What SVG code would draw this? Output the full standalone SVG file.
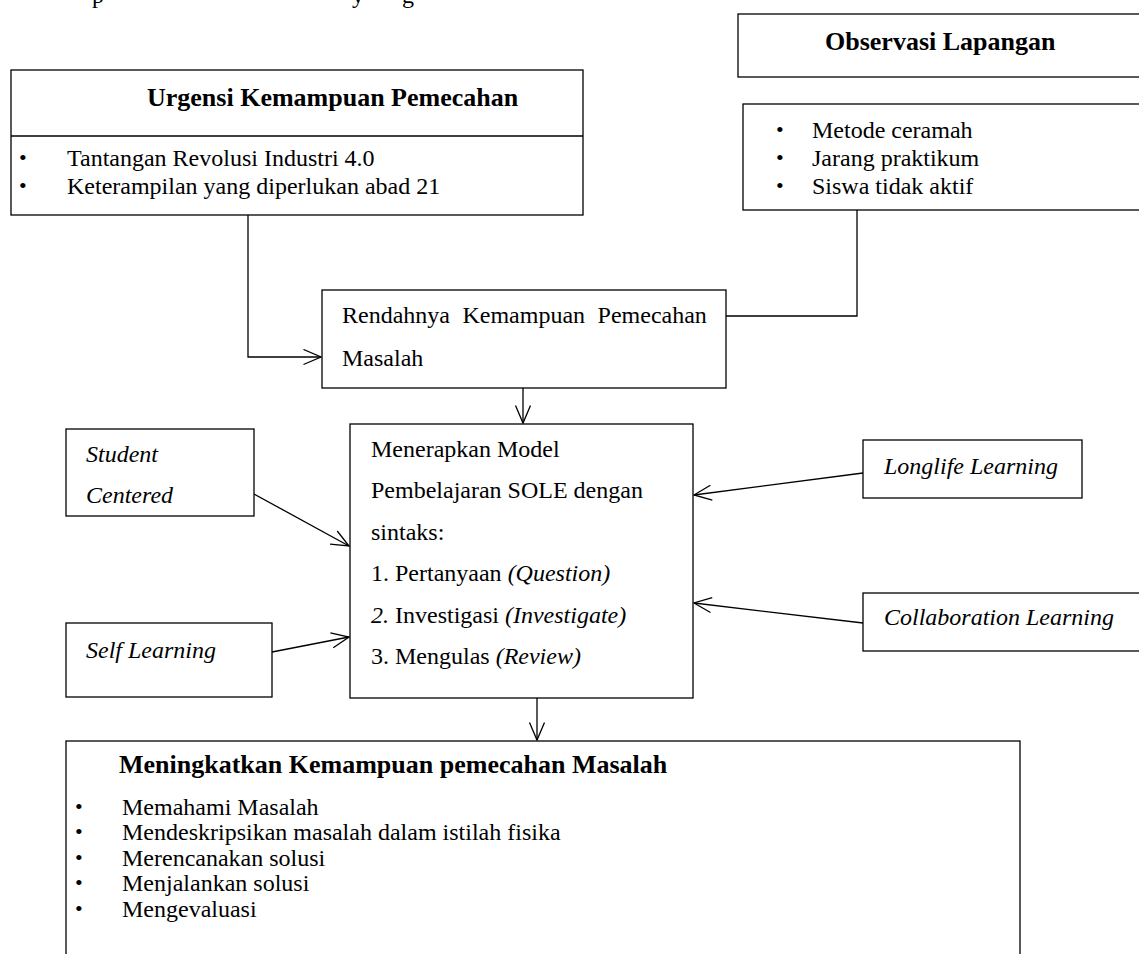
<svg xmlns="http://www.w3.org/2000/svg" width="1139" height="954" viewBox="0 0 1139 954">
<style>
.box{fill:#fff;stroke:#000;stroke-width:1.3}
.ln{fill:none;stroke:#000;stroke-width:1.3}
text{font-family:"Liberation Serif","Times New Roman",serif;fill:#000}
.t{font-size:24px}
.b{font-size:26px;font-weight:bold}
.i{font-style:italic}
.bul{font-size:22px}
</style>
<defs>
<marker id="arr" markerWidth="20" markerHeight="18" refX="18" refY="8.5" orient="auto" markerUnits="userSpaceOnUse">
<path d="M0.5,1 L18,8.5 L0.5,16" fill="none" stroke="#000" stroke-width="1.3"/>
</marker>
</defs>
<rect width="1139" height="954" fill="#fff"/>
<text class="t" x="92" y="3">p</text>
<text class="t" x="352" y="3">y</text>
<text class="t" x="402" y="3">g</text>

<g id="connectors">
<polyline class="ln" points="248,215 248,357 321,357" marker-end="url(#arr)"/>
<polyline class="ln" points="857,210 857,316 726,316"/>
<line class="ln" x1="523" y1="388" x2="523" y2="423" marker-end="url(#arr)"/>
<line class="ln" x1="254" y1="494" x2="349" y2="546" marker-end="url(#arr)"/>
<line class="ln" x1="272" y1="652" x2="349" y2="637" marker-end="url(#arr)"/>
<line class="ln" x1="863" y1="473" x2="694" y2="495" marker-end="url(#arr)"/>
<line class="ln" x1="863" y1="623" x2="694" y2="603" marker-end="url(#arr)"/>
<line class="ln" x1="537" y1="698" x2="537" y2="740" marker-end="url(#arr)"/>
</g>

<g id="observasi">
<rect class="box" x="738" y="14" width="420" height="63"/>
<text class="b" x="825" y="50">Observasi Lapangan</text>
</g>

<g id="observasi-list">
<rect class="box" x="743" y="104" width="420" height="106"/>
<text class="bul" x="776" y="137">•</text>
<text class="t" x="812" y="138">Metode ceramah</text>
<text class="bul" x="776" y="165">•</text>
<text class="t" x="812" y="166">Jarang praktikum</text>
<text class="bul" x="776" y="193">•</text>
<text class="t" x="812" y="194">Siswa tidak aktif</text>
</g>

<g id="urgensi">
<rect class="box" x="11" y="70" width="572" height="145"/>
<line class="ln" x1="11" y1="136" x2="583" y2="136"/>
<text class="b" x="147" y="106">Urgensi Kemampuan Pemecahan</text>
<text class="bul" x="19" y="165">•</text>
<text class="t" x="67" y="166">Tantangan Revolusi Industri 4.0</text>
<text class="bul" x="19" y="193">•</text>
<text class="t" x="67" y="194">Keterampilan yang diperlukan abad 21</text>
</g>

<g id="rendahnya">
<rect class="box" x="322" y="290" width="404" height="98"/>
<text class="t" x="342" y="323" word-spacing="6.5">Rendahnya Kemampuan Pemecahan</text>
<text class="t" x="342" y="366">Masalah</text>
</g>

<g id="menerapkan">
<rect class="box" x="350" y="424" width="343" height="274"/>
<text class="t" x="371" y="457">Menerapkan Model</text>
<text class="t" x="371" y="498">Pembelajaran SOLE dengan</text>
<text class="t" x="371" y="540">sintaks:</text>
<text class="t" x="371" y="581">1. Pertanyaan <tspan class="i">(Question)</tspan></text>
<text class="t" x="371" y="623"><tspan class="i">2.</tspan> Investigasi <tspan class="i">(Investigate)</tspan></text>
<text class="t" x="371" y="664">3. Mengulas <tspan class="i">(Review)</tspan></text>
</g>

<g id="student-centered">
<rect class="box" x="66" y="429" width="188" height="87"/>
<text class="t i" x="86" y="462">Student</text>
<text class="t i" x="86" y="503">Centered</text>
</g>

<g id="self-learning">
<rect class="box" x="66" y="623" width="206" height="74"/>
<text class="t i" x="86" y="658">Self Learning</text>
</g>

<g id="longlife-learning">
<rect class="box" x="863" y="440" width="219" height="58"/>
<text class="t i" x="884" y="474">Longlife Learning</text>
</g>

<g id="collaboration-learning">
<rect class="box" x="863" y="593" width="300" height="58"/>
<text class="t i" x="884" y="625">Collaboration Learning</text>
</g>

<g id="meningkatkan">
<rect class="box" x="66" y="741" width="954" height="240"/>
<text class="b" x="119" y="773" font-size="22">Meningkatkan Kemampuan pemecahan Masalah</text>
<text class="bul" x="75" y="814">•</text>
<text class="t" x="122" y="815">Memahami Masalah</text>
<text class="bul" x="75" y="839">•</text>
<text class="t" x="122" y="840">Mendeskripsikan masalah dalam istilah fisika</text>
<text class="bul" x="75" y="865">•</text>
<text class="t" x="122" y="866">Merencanakan solusi</text>
<text class="bul" x="75" y="890">•</text>
<text class="t" x="122" y="891">Menjalankan solusi</text>
<text class="bul" x="75" y="916">•</text>
<text class="t" x="122" y="917">Mengevaluasi</text>
</g>
</svg>
